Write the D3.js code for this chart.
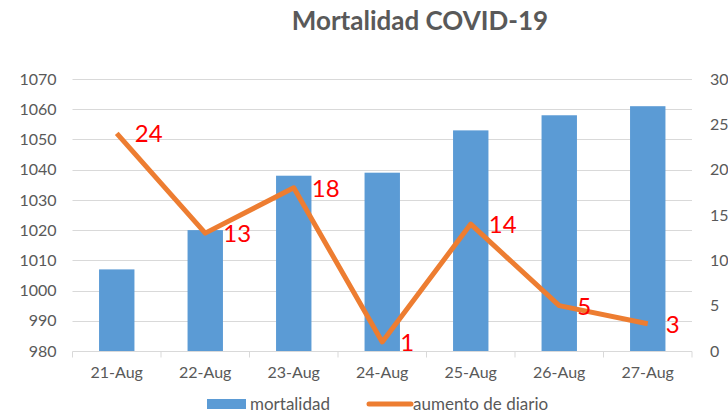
<!DOCTYPE html>
<html>
<head>
<meta charset="utf-8">
<script src="https://cdn.jsdelivr.net/npm/d3@7"></script>
<style>
  body { margin: 0; background: #fff; }
  text { font-family: Lato, "Open Sans", sans-serif; }
</style>
</head>
<body>
<div id="chart"></div>
<script>
const categories = ['21-Aug', '22-Aug', '23-Aug', '24-Aug', '25-Aug', '26-Aug', '27-Aug'];
const mortalidad = [1007, 1020, 1038, 1039, 1053, 1058, 1061];
const aumento = [24, 13, 18, 1, 14, 5, 3];
const leftTicks = [980, 990, 1000, 1010, 1020, 1030, 1040, 1050, 1060, 1070];
const rightTicks = [0, 5, 10, 15, 20, 25, 30];

const width = 728;
const height = 416;
const margin = { top: 79, right: 36, bottom: 65, left: 72.5 };
const grey = '#595959';

const svg = d3.select('#chart')
  .append('svg')
  .attr('width', width)
  .attr('height', height);

const x = d3.scaleBand()
  .domain(categories)
  .range([margin.left, width - margin.right])
  .paddingInner(0.6)
  .paddingOuter(0.3);

const y = d3.scaleLinear().domain([980, 1070]).range([height - margin.bottom, margin.top]);
const y2 = d3.scaleLinear().domain([0, 30]).range([height - margin.bottom, margin.top]);

// title
svg.append('text')
  .attr('x', 420)
  .attr('y', 30)
  .attr('text-anchor', 'middle')
  .attr('font-size', 26)
  .attr('font-weight', 'bold')
  .attr('fill', grey)
  .text('Mortalidad COVID-19');

// gridlines
svg.append('g')
  .selectAll('line')
  .data(leftTicks.slice(1))
  .enter().append('line')
  .attr('x1', margin.left)
  .attr('x2', width - margin.right)
  .attr('y1', d => Math.round(y(d)) + 0.5)
  .attr('y2', d => Math.round(y(d)) + 0.5)
  .attr('stroke', '#d9d9d9')
  .attr('stroke-width', 1);

// left axis
const yAxis = svg.append('g')
  .attr('transform', `translate(${margin.left - 16},0)`)
  .call(d3.axisLeft(y).tickValues(leftTicks).tickFormat(d3.format('d')).tickSize(0).tickPadding(0));
yAxis.select('.domain').remove();
yAxis.selectAll('text').attr('font-size', 16).attr('fill', grey);

// right axis
const yAxis2 = svg.append('g')
  .attr('transform', `translate(${width - margin.right + 18},0)`)
  .call(d3.axisRight(y2).tickValues(rightTicks).tickSize(0).tickPadding(0));
yAxis2.select('.domain').remove();
yAxis2.selectAll('text').attr('font-size', 16).attr('fill', grey);

// bars
svg.append('g')
  .selectAll('rect')
  .data(mortalidad)
  .enter().append('rect')
  .attr('x', (d, i) => x(categories[i]))
  .attr('width', x.bandwidth())
  .attr('y', d => y(d))
  .attr('height', d => y(980) - y(d))
  .attr('fill', '#5b9bd5');

// x axis
const base = Math.round(y(980)) + 0.5;
svg.append('line')
  .attr('x1', margin.left).attr('x2', width - margin.right)
  .attr('y1', base).attr('y2', base)
  .attr('stroke', '#d9d9d9');
const step = x.step();
svg.append('g')
  .selectAll('line')
  .data(d3.range(categories.length + 1))
  .enter().append('line')
  .attr('x1', i => margin.left + i * step)
  .attr('x2', i => margin.left + i * step)
  .attr('y1', base)
  .attr('y2', base + 6)
  .attr('stroke', '#d9d9d9');
svg.append('g')
  .selectAll('text')
  .data(categories)
  .enter().append('text')
  .attr('x', d => x(d) + x.bandwidth() / 2)
  .attr('y', 378)
  .attr('text-anchor', 'middle')
  .attr('font-size', 16)
  .attr('fill', grey)
  .text(d => d);

// line
const cx = i => x(categories[i]) + x.bandwidth() / 2;
const line = d3.line()
  .x((d, i) => cx(i))
  .y(d => y2(d));
svg.append('path')
  .datum(aumento)
  .attr('d', line)
  .attr('fill', 'none')
  .attr('stroke', '#ed7d31')
  .attr('stroke-width', 5)
  .attr('stroke-linejoin', 'round');

// data labels
svg.append('g')
  .selectAll('text')
  .data(aumento)
  .enter().append('text')
  .attr('x', (d, i) => cx(i) + 18)
  .attr('y', d => y2(d) + 9)
  .attr('font-size', 24)
  .attr('fill', '#ff0000')
  .text(d => d);

// legend
const leg = svg.append('g');
leg.append('rect')
  .attr('x', 207).attr('y', 399)
  .attr('width', 39).attr('height', 10)
  .attr('fill', '#5b9bd5');
leg.append('text')
  .attr('x', 250).attr('y', 410)
  .attr('font-size', 17).attr('fill', grey)
  .text('mortalidad');
leg.append('line')
  .attr('x1', 369).attr('x2', 411)
  .attr('y1', 404).attr('y2', 404)
  .attr('stroke', '#ed7d31').attr('stroke-width', 5)
  .attr('stroke-linecap', 'round');
leg.append('text')
  .attr('x', 413).attr('y', 410)
  .attr('font-size', 17).attr('fill', grey)
  .text('aumento de diario');
</script>
</body>
</html>
